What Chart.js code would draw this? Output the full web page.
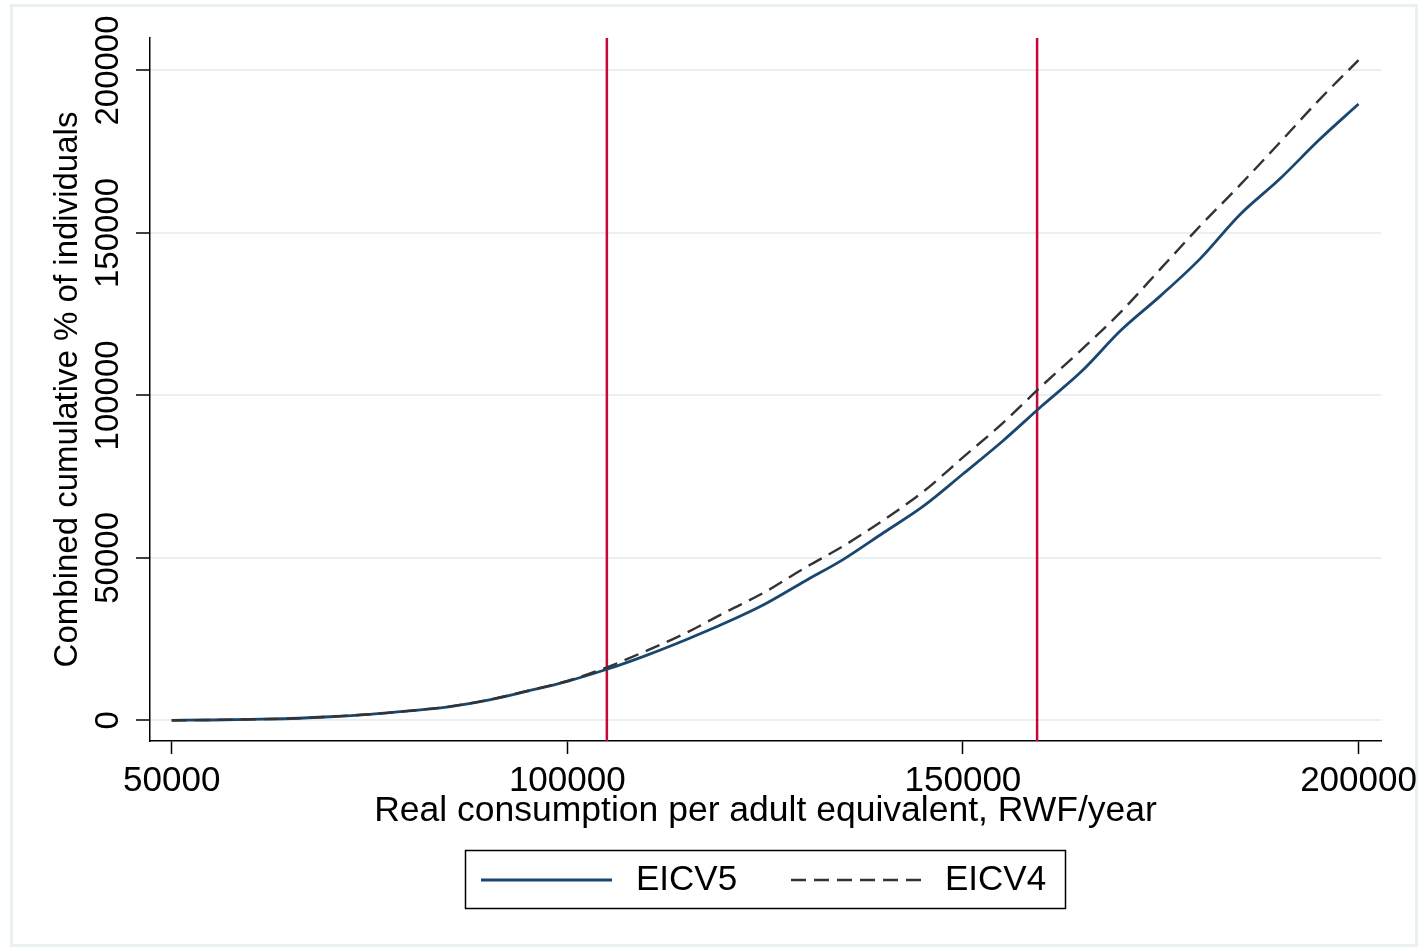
<!DOCTYPE html>
<html>
<head>
<meta charset="utf-8">
<script src="https://cdn.jsdelivr.net/npm/chart.js@4.4.7/dist/chart.umd.min.js"></script>
<style>
  html, body { margin: 0; padding: 0; background: #fff; }
  #wrap { width: 1428px; height: 951px; position: relative; }
</style>
</head>
<body>
<div id="wrap"><canvas id="c" width="1428" height="951"></canvas></div>
<script>
// real consumption per adult equivalent (RWF/year)
const consumption = [50000, 55000, 60000, 65000, 70000, 75000, 80000, 85000, 90000, 95000,
  100000, 105000, 110000, 115000, 120000, 125000, 130000, 135000, 140000, 145000,
  150000, 155000, 160000, 165000, 170000, 175000, 180000, 185000, 190000, 195000, 200000];
const eicv5 = [0, 100, 300, 550, 1100, 1850, 2900, 4150, 6200, 9000,
  12000, 15700, 20000, 24800, 30000, 35800, 42800, 49700, 57800, 65900,
  75800, 85900, 96800, 107400, 120100, 130700, 142100, 155600, 166500, 178600, 189700];
const eicv4 = [0, 100, 300, 550, 1100, 1850, 2900, 4200, 6250, 9100,
  12100, 16300, 21400, 26900, 33300, 39500, 46900, 53800, 61700, 70400,
  80900, 91400, 103000, 114100, 125800, 139000, 152200, 164700, 177700, 190900, 203200];
const seriesNames = ['EICV5', 'EICV4'];
const povertyLines = [105000, 159375];
const xTicks = [50000, 100000, 150000, 200000];
const yTicks = [0, 50000, 100000, 150000, 200000];

const FONT = 'Liberation Sans, Arial, Helvetica, sans-serif';
const NAVY = '#1a476f';
const DASH = '#333333';
const RED = '#c8063a';

const toPoints = ys => consumption.map((x, i) => ({ x: x, y: ys[i] }));

const frame = {
  id: 'frame',
  beforeDraw(chart) {
    const ctx = chart.ctx;
    ctx.save();
    ctx.fillStyle = '#fff';
    ctx.fillRect(0, 0, chart.width, chart.height);
    ctx.strokeStyle = '#e8f0f2';
    ctx.lineWidth = 3;
    ctx.strokeRect(11.5, 5.5, 1405, 940);
    ctx.restore();
  }
};

const refLines = {
  id: 'refLines',
  beforeDatasetsDraw(chart) {
    const { ctx, chartArea, scales } = chart;
    ctx.save();
    ctx.strokeStyle = RED;
    ctx.lineWidth = 2.5;
    povertyLines.forEach(v => {
      const px = scales.x.getPixelForValue(v);
      ctx.beginPath();
      ctx.moveTo(px, chartArea.top);
      ctx.lineTo(px, chartArea.bottom);
      ctx.stroke();
    });
    ctx.restore();
  }
};

// y tick labels stand upright in the original, so they are drawn rotated here
const yLabels = {
  id: 'yLabels',
  afterDraw(chart) {
    const ctx = chart.ctx;
    const s = chart.scales.y;
    ctx.save();
    ctx.fillStyle = '#000';
    ctx.font = '33px ' + FONT;
    ctx.textAlign = 'center';
    ctx.textBaseline = 'middle';
    yTicks.forEach(v => {
      ctx.save();
      ctx.translate(109, s.getPixelForValue(v));
      ctx.rotate(-Math.PI / 2);
      ctx.fillText(String(v), 0, 0);
      ctx.restore();
    });
    ctx.restore();
  }
};

const legendBox = {
  id: 'legendBox',
  afterDraw(chart) {
    const ctx = chart.ctx;
    ctx.save();
    ctx.strokeStyle = '#000';
    ctx.lineWidth = 1.5;
    ctx.strokeRect(465.5, 850.5, 600, 58);
    const y = 880;
    ctx.lineWidth = 2.8;
    ctx.strokeStyle = NAVY;
    ctx.beginPath(); ctx.moveTo(481, y); ctx.lineTo(612, y); ctx.stroke();
    ctx.strokeStyle = DASH;
    ctx.lineWidth = 2.4;
    ctx.setLineDash([15, 8]);
    ctx.beginPath(); ctx.moveTo(791, y); ctx.lineTo(921, y); ctx.stroke();
    ctx.setLineDash([]);
    ctx.fillStyle = '#000';
    ctx.font = '35px ' + FONT;
    ctx.textAlign = 'left';
    ctx.textBaseline = 'middle';
    ctx.fillText(seriesNames[0], 636, y);
    ctx.fillText(seriesNames[1], 945, y);
    ctx.restore();
  }
};

new Chart(document.getElementById('c'), {
  type: 'line',
  data: {
    datasets: [
      {
        label: seriesNames[0],
        data: toPoints(eicv5),
        borderColor: NAVY,
        borderWidth: 2.8,
        pointRadius: 0,
        fill: false,
        cubicInterpolationMode: 'monotone',
        order: 1
      },
      {
        label: seriesNames[1],
        data: toPoints(eicv4),
        borderColor: DASH,
        borderWidth: 2.4,
        borderDash: [15, 8],
        pointRadius: 0,
        fill: false,
        cubicInterpolationMode: 'monotone',
        order: 0
      }
    ]
  },
  options: {
    responsive: false,
    animation: false,
    layout: { padding: { left: 47, top: 38, right: 47, bottom: 118 } },
    plugins: { legend: { display: false }, tooltip: { enabled: false } },
    scales: {
      x: {
        type: 'linear',
        min: 47260,
        max: 202840,
        afterBuildTicks: s => { s.ticks = xTicks.map(v => ({ value: v })); },
        afterFit: s => { s.height = 92; },
        ticks: {
          color: '#000',
          font: { family: FONT, size: 35 },
          padding: 6,
          maxRotation: 0,
          autoSkip: false,
          callback: v => String(v)
        },
        grid: { drawOnChartArea: false, drawTicks: true, tickLength: 13, tickColor: '#000', tickWidth: 1.5 },
        border: { display: true, color: '#000', width: 1.5 },
        title: {
          display: true,
          text: 'Real consumption per adult equivalent, RWF/year',
          color: '#000',
          font: { family: FONT, size: 35.5 },
          padding: { top: 0, bottom: 0 }
        }
      },
      y: {
        type: 'linear',
        min: -6370,
        max: 210000,
        afterBuildTicks: s => { s.ticks = yTicks.map(v => ({ value: v })); },
        afterFit: s => { s.width = 103; },
        ticks: { display: false },
        grid: { color: '#e8f0f2', lineWidth: 2, drawTicks: true, tickLength: 14, tickColor: '#000', tickWidth: 1.5 },
        border: { display: true, color: '#000', width: 1.5 },
        title: {
          display: true,
          text: 'Combined cumulative % of individuals',
          color: '#000',
          font: { family: FONT, size: 33 },
          padding: { top: 1, bottom: 0 }
        }
      }
    }
  },
  plugins: [frame, refLines, yLabels, legendBox]
});
</script>
</body>
</html>
